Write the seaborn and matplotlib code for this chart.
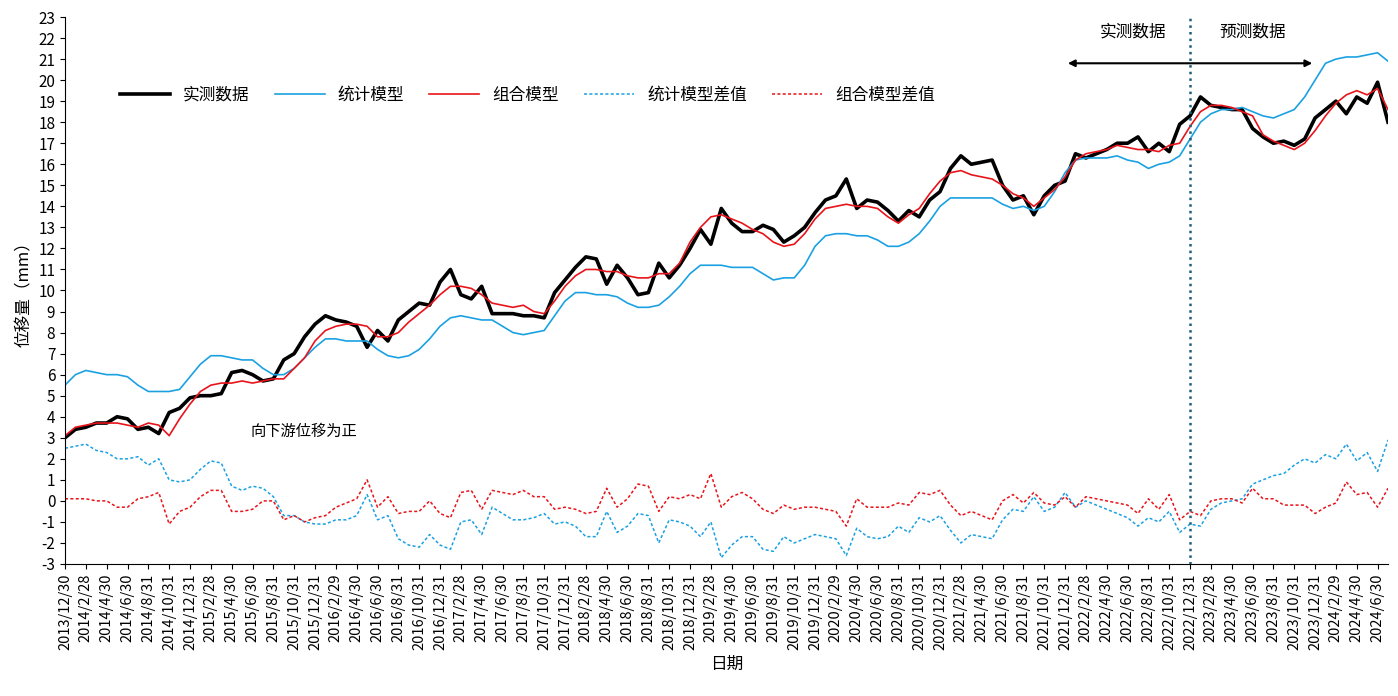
import matplotlib
matplotlib.use("Agg")
import matplotlib.pyplot as plt
from matplotlib import font_manager
import seaborn as sns
import numpy as np
import pandas as pd

cjk = "Noto Sans CJK SC"
for f in font_manager.findSystemFonts():
    if "CJK" in f and ("SC" in f or "ttc" in f.lower()):
        try:
            font_manager.fontManager.addfont(f)
        except Exception:
            pass
names = {fe.name for fe in font_manager.fontManager.ttflist}
for cand in ["Noto Sans CJK SC", "Noto Sans CJK JP", "Noto Sans CJK TC", "Noto Sans CJK KR"]:
    if cand in names:
        cjk = cand
        break
plt.rcParams["font.family"] = [cjk, "DejaVu Sans"]
plt.rcParams["axes.unicode_minus"] = False

measured = [3.0,3.4,3.5,3.7,3.7,4.0,3.9,3.4,3.5,
            3.2,4.2,4.4,4.9,5.0,5.0,5.1,6.1,6.2,6.0,
            5.7,5.8,6.7,7.0,7.8,8.4,8.8,8.6,8.5,8.3,
            7.3,8.1,7.6,8.6,9.0,9.4,9.3,10.4,11.0,9.8,9.6,10.2,8.9,8.9,8.9,8.8,8.8,8.7,9.9,10.5,
            11.1,11.6,11.5,10.3,11.2,10.6,9.8,9.9,11.3,10.6,
            11.2,12.0,12.9,12.2,13.9,13.2,12.8,12.8,13.1,12.9,
            12.3,12.6,13.0,13.7,14.3,14.5,15.3,13.9,14.3,14.2,
            13.8,13.3,13.8,13.5,14.3,14.7,15.8,16.4,16.0,16.1,
            16.2,15.0,14.3,14.5,13.6,14.5,15.0,15.2,16.5,16.3,
            16.5,16.7,17.0,17.0,17.3,16.6,17.0,16.6,17.9,18.3,
            19.2,18.8,18.7,18.6,18.6,17.7,17.3,17.0,17.1,16.9,
            17.2,18.2,18.6,19.0,18.4,19.2,18.9,19.9,18.0]
statistical = [5.5,6.0,6.2,6.1,6.0,6.0,5.9,5.5,5.2,5.2,
               5.2,5.3,5.9,6.5,6.9,6.9,6.8,6.7,6.7,6.3,
               6.0,6.0,6.3,6.8,7.3,7.7,7.7,7.6,7.6,7.6,
               7.2,6.9,6.8,6.9,7.2,7.7,8.3,8.7,8.8,8.7,
               8.6,8.6,8.3,8.0,7.9,8.0,8.1,8.8,9.5,9.9,
               9.9,9.8,9.8,9.7,9.4,9.2,9.2,9.3,9.7,10.2,
               10.8,11.2,11.2,11.2,11.1,11.1,11.1,10.8,10.5,10.6,
               10.6,11.2,12.1,12.6,12.7,12.7,12.6,12.6,12.4,12.1,
               12.1,12.3,12.7,13.3,14.0,14.4,14.4,14.4,14.4,14.4,
               14.1,13.9,14.0,13.8,14.0,14.7,15.6,16.2,16.3,16.3,
               16.3,16.4,16.2,16.1,15.8,16.0,16.1,16.4,17.2,18.0,
               18.4,18.6,18.6,18.7,18.5,18.3,18.2,18.4,18.6,19.2,
               20.0,20.8,21.0,21.1,21.1,21.2,21.3,20.9]
combined = [3.1,3.5,3.6,3.7,3.7,3.7,3.6,3.5,3.7,3.6,
            3.1,3.9,4.6,5.2,5.5,5.6,5.6,5.7,5.6,5.7,
            5.8,5.8,6.3,6.8,7.6,8.1,8.3,8.4,8.4,8.3,
            7.8,7.8,8.0,8.5,8.9,9.3,9.8,10.2,10.2,10.1,
            9.8,9.4,9.3,9.2,9.3,9.0,8.9,9.5,10.2,10.7,
            11.0,11.0,10.9,10.9,10.7,10.6,10.6,10.8,10.8,11.3,
            12.3,13.0,13.5,13.6,13.4,13.2,12.9,12.7,12.3,12.1,
            12.2,12.7,13.4,13.9,14.0,14.1,14.0,14.0,13.9,13.5,
            13.2,13.6,13.9,14.6,15.2,15.6,15.7,15.5,15.4,15.3,
            15.0,14.6,14.4,14.0,14.4,14.8,15.4,16.2,16.5,16.6,
            16.7,16.9,16.8,16.7,16.7,16.6,16.9,17.0,17.8,18.5,
            18.8,18.8,18.7,18.5,18.3,17.4,17.1,16.9,16.7,17.0,
            17.6,18.3,18.9,19.3,19.5,19.3,19.6,18.6]

n = min(len(measured), len(statistical), len(combined))
measured, statistical, combined = measured[:n], statistical[:n], combined[:n]
months = np.arange(n)

tick_labels = ["2013/12/30"]
for yr in range(2014, 2025):
    for mo in range(2, 13, 2):
        if yr == 2024 and mo > 6:
            break
        d = pd.Timestamp(yr, mo, 1) + pd.offsets.MonthEnd(0)
        tick_labels.append(f"{yr}/{mo}/{d.day}")

df = pd.DataFrame({"m": months, "实测数据": measured, "统计模型": statistical, "组合模型": combined})
df["统计模型差值"] = df["统计模型"] - df["实测数据"]
df["组合模型差值"] = df["组合模型"] - df["实测数据"]

fig = plt.figure(figsize=(13.98, 6.96), dpi=100)
ax = fig.add_axes([65/1398, 1-564/696, (1388-65)/1398, (564-17)/696])
sns.lineplot(data=df, x="m", y="实测数据", ax=ax, color="black", lw=2.6, label="实测数据")
sns.lineplot(data=df, x="m", y="统计模型", ax=ax, color="#1ba1e2", lw=1.2, label="统计模型")
sns.lineplot(data=df, x="m", y="组合模型", ax=ax, color="#e8141b", lw=1.2, label="组合模型")
sns.lineplot(data=df, x="m", y="统计模型差值", ax=ax, color="#1ba1e2", lw=1.1, ls=(0, (2, 1.5)), label="统计模型差值")
sns.lineplot(data=df, x="m", y="组合模型差值", ax=ax, color="#e8141b", lw=1.1, ls=(0, (2, 1.5)), label="组合模型差值")

ax.set_ylim(-3, 23)
ax.set_yticks(range(-3, 24))
ax.set_xticks(np.arange(0, 2 * len(tick_labels), 2))
ax.set_xticklabels(tick_labels, rotation=90, fontsize=10.5)
ax.tick_params(axis="y", labelsize=11)
ax.set_xlim(0, n - 1)
for s in ["top", "right"]:
    ax.spines[s].set_visible(False)
ax.set_xlabel("日期", fontsize=12)
ax.set_ylabel("位移量（mm）", fontsize=12)

ax.axvline(108, color="#1f5f7a", ls=":", lw=1.8)
ax.annotate("", xy=(96, 20.8), xytext=(120, 20.8),
            arrowprops=dict(arrowstyle="<|-|>", color="black", lw=1.5))
ax.text(102.5, 22.3, "实测数据", ha="center", va="center", fontsize=12)
ax.text(114, 22.3, "预测数据", ha="center", va="center", fontsize=12)
ax.text(17.8, 3.1, "向下游位移为正", fontsize=11)

ax.legend(loc="upper left", bbox_to_anchor=(0.03, 0.9), ncol=5, frameon=False,
          fontsize=12, handlelength=3, columnspacing=1.5)
fig.savefig("out.png", dpi=100)
